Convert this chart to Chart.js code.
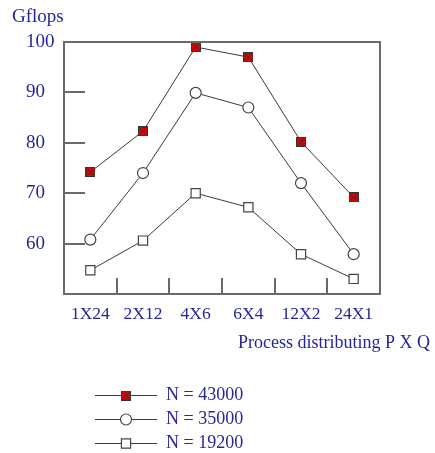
<!DOCTYPE html>
<html>
<head>
<meta charset="utf-8">
<script src="https://cdn.jsdelivr.net/npm/chart.js@4/dist/chart.umd.min.js"></script>
<style>
  html, body { margin: 0; padding: 0; background: #fff; }
  #wrap { width: 435px; height: 453px; position: relative; }
</style>
</head>
<body>
<div id="wrap"><canvas id="chart"></canvas></div>
<script>
// ---- data ----
const categories = ['1X24', '2X12', '4X6', '6X4', '12X2', '24X1'];
const n43000 = [74.2, 82.3, 99.0, 97.0, 80.2, 69.2];
const n35000 = [60.8, 74.0, 89.9, 87.0, 72.0, 57.9];
const n19200 = [54.7, 60.6, 70.0, 67.2, 57.9, 53.0];
const seriesLabels = ['N = 43000', 'N = 35000', 'N = 19200'];
const yTicks = [60, 70, 80, 90, 100];

const BLUE  = '#26269a';
const LINE  = '#3a3a3a';
const FRAME = '#6a6a6a';
const FONT  = '"Liberation Serif", "Times New Roman", serif';

// red square with an X inside
function redMarker() {
  const c = document.createElement('canvas');
  c.width = 10; c.height = 10;
  const g = c.getContext('2d');
  g.fillStyle = '#e00000';
  g.fillRect(0, 0, 10, 10);
  g.strokeStyle = '#333';
  g.lineWidth = 1;
  g.strokeRect(0.5, 0.5, 9, 9);
  g.beginPath();
  g.moveTo(2, 2); g.lineTo(8, 8);
  g.moveTo(8, 2); g.lineTo(2, 8);
  g.stroke();
  return c;
}
const RED_MARK = redMarker();

const fills   = ['#e00000', '#fff', '#fff'];
const strokes = ['#333', '#444', '#444'];

// ---- frame, inward ticks, titles, legend ----
const decor = {
  id: 'decor',
  afterDraw(chart) {
    const { ctx, chartArea: a, scales: { x, y } } = chart;
    ctx.save();
    ctx.strokeStyle = FRAME;
    ctx.lineWidth = 2;
    ctx.strokeRect(a.left, a.top, a.right - a.left, a.bottom - a.top);

    ctx.beginPath();
    yTicks.slice(0, -1).forEach(v => {
      const py = Math.round(y.getPixelForValue(v));
      ctx.moveTo(a.left, py); ctx.lineTo(a.left + 21, py);
    });
    for (let i = 0; i < categories.length - 1; i++) {
      const px = Math.round((x.getPixelForValue(i) + x.getPixelForValue(i + 1)) / 2);
      ctx.moveTo(px, a.bottom); ctx.lineTo(px, a.bottom - 16);
    }
    ctx.stroke();

    ctx.fillStyle = BLUE;
    ctx.textBaseline = 'middle';
    ctx.textAlign = 'left';
    ctx.font = '19px ' + FONT;
    ctx.fillText('Gflops', 12, 17);
    ctx.font = '18px ' + FONT;
    ctx.fillText('Process distributing P X Q', 238, 343);

    // legend
    chart.data.datasets.forEach((d, i) => {
      const ly = 395 + i * 24;
      ctx.strokeStyle = LINE;
      ctx.lineWidth = 1;
      ctx.beginPath();
      ctx.moveTo(95, ly + 0.5); ctx.lineTo(157, ly + 0.5);
      ctx.stroke();
      if (d.pointStyle instanceof HTMLCanvasElement) {
        ctx.drawImage(d.pointStyle, 121, ly - 4.5);
      } else {
        ctx.fillStyle = fills[i];
        ctx.strokeStyle = strokes[i];
        ctx.lineWidth = d.pointBorderWidth;
        Chart.helpers.drawPoint(ctx, { pointStyle: d.pointStyle, radius: d.pointRadius, borderWidth: d.pointBorderWidth }, 126, ly + 0.5);
      }
      ctx.fillStyle = BLUE;
      ctx.font = '18px ' + FONT;
      ctx.fillText(seriesLabels[i], 166, ly);
    });
    ctx.restore();
  }
};

new Chart(document.getElementById('chart'), {
  type: 'line',
  data: {
    labels: categories,
    datasets: [
      { label: seriesLabels[0], data: n43000, pointStyle: RED_MARK, pointRadius: 5, pointBorderWidth: 1 },
      { label: seriesLabels[1], data: n35000, pointStyle: 'circle', pointRadius: 5.5, pointBorderWidth: 1.2 },
      { label: seriesLabels[2], data: n19200, pointStyle: 'rect', pointRadius: 6.5, pointBorderWidth: 1.2 }
    ].map((d, i) => Object.assign(d, {
      borderColor: LINE,
      borderWidth: 1,
      tension: 0,
      pointBackgroundColor: fills[i],
      pointBorderColor: strokes[i],
      pointHoverRadius: d.pointRadius
    }))
  },
  options: {
    responsive: true,
    maintainAspectRatio: false,
    animation: false,
    layout: { padding: { left: 26, top: 42, right: 55, bottom: 129 } },
    plugins: { legend: { display: false }, tooltip: { enabled: false } },
    scales: {
      x: {
        offset: true,
        grid: { display: false, drawTicks: false },
        border: { display: false },
        ticks: { color: BLUE, font: { family: FONT, size: 17.5 }, padding: 10, maxRotation: 0 },
        afterFit: s => { s.height = 30; }
      },
      y: {
        min: 50,
        max: 100,
        grid: { display: false, drawTicks: false },
        border: { display: false },
        ticks: {
          stepSize: 10,
          color: BLUE,
          crossAlign: 'far',
          font: { family: FONT, size: 19 },
          callback: v => yTicks.includes(v) ? v : ''
        },
        afterFit: s => { s.width = 38; }
      }
    }
  },
  plugins: [decor]
});
</script>
</body>
</html>
